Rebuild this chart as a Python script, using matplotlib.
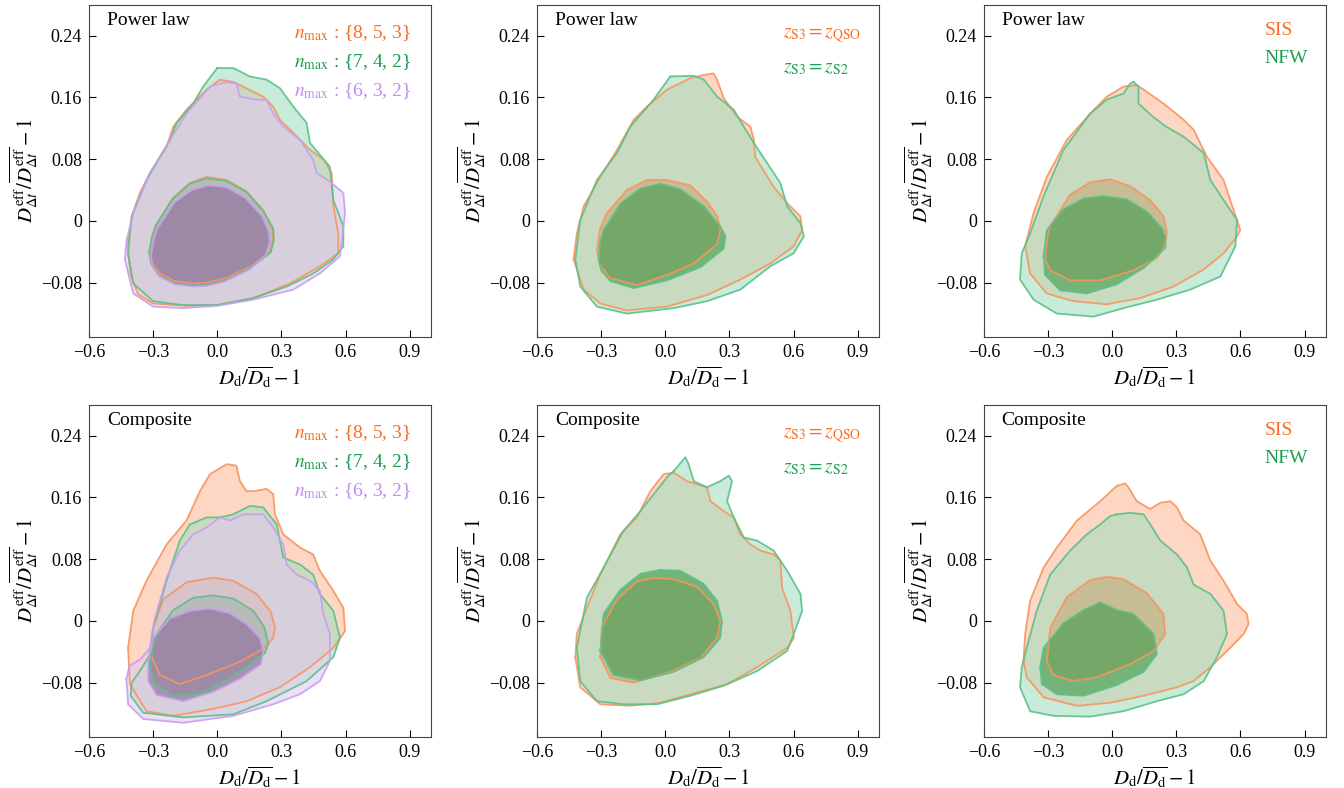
import matplotlib
matplotlib.use("Agg")
import matplotlib.pyplot as plt
from matplotlib.colors import to_rgba

plt.rcParams["font.family"] = ["Liberation Serif", "DejaVu Serif"]
plt.rcParams["mathtext.fontset"] = "stix"

# text colours, outer-fill colours, inner-fill colours, outline colours
ORANGE = "#ff6a1f"
GREEN = "#1a9e50"
PURPLE = "#c08ff0"
FILL_OUT = {ORANGE: "#fcbb9d", GREEN: "#a5dfc0", PURPLE: "#e4c8f0"}
FILL_IN = {ORANGE: "#fc5a0f", GREEN: "#3f9a4a", PURPLE: "#8c6998"}
EDGE = {ORANGE: "#f7955e", GREEN: "#5cc088", PURPLE: "#c79ff2"}

X_TICKS = [-0.6, -0.3, 0.0, 0.3, 0.6, 0.9]
X_TICK_LABELS = ["\u22120.6", "\u22120.3", "0.0", "0.3", "0.6", "0.9"]
Y_TICKS = [0.24, 0.16, 0.08, 0.0, -0.08]
Y_TICK_LABELS = ["0.24", "0.16", "0.08", "0", "\u22120.08"]

ROW_TITLES = ["Power law", "Composite"]
NMAX_LABELS = [r"$n_{\rm max}$ : {8, 5, 3}", r"$n_{\rm max}$ : {7, 4, 2}", r"$n_{\rm max}$ : {6, 3, 2}"]
ZS3_LABELS = [r"$z_{\rm S3}=z_{\rm QSO}$", r"$z_{\rm S3}=z_{\rm S2}$"]
HALO_LABELS = ["SIS", "NFW"]

# ---- contour outlines (x, y) ----
# Power law, n_max
pl_n853_out = [(-0.417, -0.025), (-0.417, -0.042), (-0.405, -0.07), (-0.37, -0.095), (-0.30, -0.107),
               (-0.144, -0.110), (0.0, -0.109), (0.169, -0.100), (0.34, -0.081), (0.48, -0.059),
               (0.566, -0.042), (0.566, -0.016), (0.543, 0.019), (0.535, 0.062), (0.50, 0.079),
               (0.434, 0.092), (0.356, 0.114), (0.293, 0.131), (0.262, 0.148), (0.215, 0.161),
               (0.075, 0.180), (0.012, 0.183), (-0.05, 0.170), (-0.144, 0.144), (-0.206, 0.122),
               (-0.237, 0.096), (-0.315, 0.062), (-0.362, 0.036), (-0.40, 0.006)]
pl_n742_out = [(0.0, 0.198), (0.075, 0.198), (0.153, 0.187), (0.23, 0.183), (0.293, 0.172),
               (0.356, 0.148), (0.418, 0.127), (0.434, 0.101), (0.527, 0.070), (0.543, 0.027),
               (0.59, -0.007), (0.59, -0.033), (0.543, -0.050), (0.45, -0.068), (0.325, -0.085),
               (0.169, -0.100), (0.0, -0.109), (-0.16, -0.109), (-0.30, -0.104), (-0.393, -0.081),
               (-0.417, -0.042), (-0.40, 0.006), (-0.33, 0.053), (-0.268, 0.083), (-0.22, 0.105),
               (-0.19, 0.127), (-0.112, 0.152), (-0.066, 0.174)]
pl_n632_out = [(-0.432, -0.050), (-0.393, -0.094), (-0.30, -0.111), (-0.16, -0.113), (0.0, -0.110),
               (0.169, -0.102), (0.356, -0.089), (0.48, -0.068), (0.574, -0.046), (0.598, 0.010),
               (0.59, 0.036), (0.527, 0.051), (0.465, 0.062), (0.449, 0.079), (0.387, 0.105),
               (0.309, 0.122), (0.262, 0.139), (0.231, 0.157), (0.184, 0.157), (0.106, 0.161),
               (0.09, 0.178), (0.044, 0.180), (-0.034, 0.174), (-0.144, 0.139), (-0.22, 0.105),
               (-0.315, 0.062), (-0.393, 0.010), (-0.424, -0.025)]
pl_n853_in = [(-0.315, -0.038), (-0.30, -0.020), (-0.284, -0.005), (-0.206, 0.030), (-0.128, 0.049),
              (-0.05, 0.057), (0.044, 0.053), (0.137, 0.038), (0.215, 0.014), (0.258, -0.010),
              (0.262, -0.025), (0.247, -0.040), (0.169, -0.057), (0.044, -0.074), (-0.05, -0.080),
              (-0.112, -0.081), (-0.200, -0.078), (-0.270, -0.068), (-0.305, -0.054)]
pl_n742_in = [(-0.318, -0.040), (-0.305, -0.020), (-0.288, -0.006), (-0.21, 0.028), (-0.13, 0.048),
              (-0.05, 0.055), (0.04, 0.052), (0.135, 0.038), (0.215, 0.013), (0.262, -0.010),
              (0.265, -0.024), (0.25, -0.041), (0.165, -0.059), (0.04, -0.077), (-0.05, -0.083),
              (-0.112, -0.084), (-0.20, -0.081), (-0.275, -0.070), (-0.31, -0.055)]
pl_n632_in = [(-0.31, -0.045), (-0.298, -0.025), (-0.28, -0.010), (-0.20, 0.024), (-0.12, 0.040),
              (-0.04, 0.046), (0.04, 0.044), (0.13, 0.030), (0.21, 0.006), (0.242, -0.015),
              (0.245, -0.028), (0.225, -0.045), (0.15, -0.063), (0.03, -0.079), (-0.05, -0.084),
              (-0.11, -0.085), (-0.20, -0.082), (-0.27, -0.072), (-0.305, -0.058)]

# Power law, z_S3
pl_qso_out = [(-0.429, -0.050), (-0.382, -0.089), (-0.304, -0.107), (-0.18, -0.116), (0.008, -0.111),
              (0.195, -0.096), (0.351, -0.076), (0.492, -0.055), (0.60, -0.033), (0.64, -0.012),
              (0.632, 0.006), (0.57, 0.023), (0.507, 0.044), (0.42, 0.083), (0.414, 0.105),
              (0.398, 0.122), (0.336, 0.135), (0.273, 0.159), (0.242, 0.183), (0.226, 0.191),
              (0.18, 0.189), (0.117, 0.185), (0.008, 0.170), (-0.086, 0.148), (-0.148, 0.131),
              (-0.226, 0.092), (-0.304, 0.057), (-0.382, 0.019), (-0.414, -0.016)]
pl_s2_out = [(0.023, 0.187), (0.133, 0.188), (0.18, 0.183), (0.242, 0.161), (0.32, 0.144),
             (0.367, 0.122), (0.414, 0.101), (0.476, 0.075), (0.538, 0.049), (0.57, 0.019),
             (0.632, -0.003), (0.648, -0.020), (0.60, -0.042), (0.49, -0.059), (0.351, -0.089),
             (0.195, -0.104), (0.039, -0.113), (-0.18, -0.120), (-0.32, -0.111), (-0.398, -0.085),
             (-0.421, -0.050), (-0.398, 0.001), (-0.32, 0.053), (-0.226, 0.088), (-0.164, 0.122),
             (-0.055, 0.157)]
pl_qso_in = [(-0.32, -0.038), (-0.305, -0.010), (-0.273, 0.010), (-0.18, 0.040), (-0.086, 0.053),
             (0.008, 0.053), (0.117, 0.046), (0.195, 0.025), (0.245, 0.005), (0.257, -0.012),
             (0.242, -0.030), (0.133, -0.055), (0.008, -0.070), (-0.133, -0.083), (-0.257, -0.074),
             (-0.305, -0.058)]
pl_s2_in = [(-0.312, -0.050), (-0.305, -0.028), (-0.289, -0.012), (-0.211, 0.022), (-0.117, 0.042),
            (-0.023, 0.048), (0.07, 0.041), (0.18, 0.019), (0.257, -0.007), (0.281, -0.020),
            (0.273, -0.036), (0.164, -0.060), (0.008, -0.077), (-0.148, -0.087), (-0.257, -0.078),
            (-0.300, -0.064)]

# Power law, SIS / NFW
pl_sis_out = [(-0.407, -0.033), (-0.384, -0.068), (-0.306, -0.094), (-0.181, -0.104), (-0.025, -0.108),
              (0.131, -0.100), (0.287, -0.085), (0.428, -0.063), (0.521, -0.042), (0.584, -0.020),
              (0.599, -0.012), (0.584, 0.001), (0.552, 0.027), (0.521, 0.053), (0.443, 0.083),
              (0.381, 0.118), (0.334, 0.131), (0.24, 0.152), (0.147, 0.170), (0.115, 0.176),
              (0.053, 0.174), (-0.025, 0.161), (-0.103, 0.139), (-0.212, 0.105), (-0.306, 0.057),
              (-0.368, 0.010)]
pl_nfw_out = [(0.10, 0.180), (0.123, 0.174), (0.123, 0.152), (0.19, 0.135), (0.253, 0.122),
              (0.334, 0.109), (0.428, 0.088), (0.459, 0.053), (0.521, 0.027), (0.584, 0.001),
              (0.576, -0.033), (0.506, -0.072), (0.365, -0.089), (0.209, -0.102), (0.053, -0.113),
              (-0.087, -0.124), (-0.259, -0.120), (-0.368, -0.102), (-0.431, -0.076), (-0.423, -0.042),
              (-0.384, -0.016), (-0.321, 0.032), (-0.228, 0.092), (-0.103, 0.139), (-0.025, 0.157),
              (0.053, 0.165), (0.084, 0.178)]
pl_sis_in = [(-0.314, -0.050), (-0.305, -0.025), (-0.29, -0.007), (-0.197, 0.034), (-0.103, 0.050),
             (-0.009, 0.054), (0.084, 0.045), (0.178, 0.027), (0.24, 0.006), (0.256, -0.016),
             (0.240, -0.035), (0.209, -0.048), (0.10, -0.064), (-0.056, -0.077), (-0.197, -0.077),
             (-0.29, -0.064)]
pl_nfw_in = [(-0.321, -0.046), (-0.306, -0.012), (-0.228, 0.015), (-0.134, 0.029), (-0.041, 0.032),
             (0.069, 0.028), (0.162, 0.012), (0.235, -0.010), (0.250, -0.022), (0.248, -0.035),
             (0.147, -0.061), (0.022, -0.082), (-0.119, -0.094), (-0.243, -0.090), (-0.314, -0.070)]

# Composite, n_max
cp_n853_out = [(-0.417, -0.035), (-0.409, -0.082), (-0.331, -0.117), (-0.206, -0.123), (-0.019, -0.114),
               (0.137, -0.104), (0.293, -0.086), (0.434, -0.060), (0.543, -0.035), (0.598, -0.013),
               (0.59, 0.017), (0.543, 0.039), (0.48, 0.065), (0.449, 0.086), (0.387, 0.095),
               (0.309, 0.112), (0.27, 0.138), (0.262, 0.164), (0.231, 0.171), (0.169, 0.168),
               (0.137, 0.168), (0.106, 0.181), (0.09, 0.201), (0.044, 0.203), (-0.034, 0.19),
               (-0.081, 0.168), (-0.144, 0.130), (-0.237, 0.099), (-0.331, 0.052), (-0.393, 0.013)]
cp_n742_out = [(0.012, 0.134), (0.075, 0.138), (0.153, 0.149), (0.215, 0.147), (0.278, 0.125),
               (0.309, 0.082), (0.387, 0.073), (0.449, 0.060), (0.48, 0.035), (0.543, 0.013),
               (0.574, -0.022), (0.543, -0.047), (0.418, -0.078), (0.231, -0.104), (0.075, -0.121),
               (-0.159, -0.125), (-0.346, -0.119), (-0.405, -0.097), (-0.400, -0.080), (-0.355, -0.062),
               (-0.318, -0.045), (-0.30, -0.009), (-0.237, 0.052), (-0.175, 0.104), (-0.128, 0.125),
               (-0.05, 0.134)]
cp_n632_out = [(-0.425, -0.075), (-0.417, -0.108), (-0.346, -0.127), (-0.159, -0.132), (0.075, -0.123),
               (0.262, -0.108), (0.387, -0.095), (0.48, -0.078), (0.527, -0.052), (0.527, -0.017),
               (0.496, 0.009), (0.48, 0.039), (0.434, 0.052), (0.371, 0.060), (0.325, 0.073),
               (0.309, 0.099), (0.262, 0.121), (0.215, 0.138), (0.122, 0.138), (0.059, 0.130),
               (0.012, 0.134), (-0.05, 0.121), (-0.112, 0.112), (-0.175, 0.091), (-0.237, 0.056),
               (-0.295, 0.000), (-0.315, -0.035), (-0.360, -0.050), (-0.410, -0.058)]
cp_n853_in = [(-0.307, -0.047), (-0.30, -0.009), (-0.253, 0.028), (-0.144, 0.050), (-0.019, 0.056),
              (0.075, 0.052), (0.184, 0.035), (0.250, 0.012), (0.270, -0.008), (0.262, -0.022),
              (0.215, -0.036), (0.106, -0.053), (-0.05, -0.070), (-0.175, -0.082), (-0.268, -0.070)]
cp_n742_in = [(-0.315, -0.052), (-0.284, -0.017), (-0.206, 0.014), (-0.112, 0.030), (-0.019, 0.033),
              (0.075, 0.029), (0.169, 0.013), (0.220, -0.008), (0.239, -0.030), (0.222, -0.042),
              (0.184, -0.050), (0.075, -0.071), (-0.081, -0.095), (-0.206, -0.097), (-0.30, -0.080)]
cp_n632_in = [(-0.323, -0.052), (-0.30, -0.022), (-0.222, 0.003), (-0.128, 0.013), (-0.034, 0.016),
              (0.059, 0.010), (0.137, -0.004), (0.200, -0.022), (0.215, -0.040), (0.205, -0.056),
              (0.106, -0.075), (-0.019, -0.092), (-0.159, -0.104), (-0.284, -0.096), (-0.323, -0.078)]

# Composite, z_S3
cp_qso_out = [(-0.421, -0.047), (-0.398, -0.086), (-0.304, -0.108), (-0.164, -0.110), (-0.023, -0.106),
              (0.117, -0.095), (0.289, -0.082), (0.429, -0.060), (0.57, -0.035), (0.601, -0.022),
              (0.585, 0.013), (0.546, 0.043), (0.538, 0.078), (0.507, 0.086), (0.445, 0.091),
              (0.398, 0.099), (0.351, 0.112), (0.32, 0.134), (0.273, 0.142), (0.211, 0.155),
              (0.195, 0.173), (0.148, 0.177), (0.101, 0.181), (0.039, 0.192), (-0.008, 0.190),
              (-0.070, 0.168), (-0.133, 0.134), (-0.211, 0.112), (-0.304, 0.060), (-0.367, 0.017),
              (-0.414, -0.017)]
cp_s2_out = [(0.039, 0.194), (0.094, 0.212), (0.109, 0.203), (0.133, 0.181), (0.195, 0.173),
             (0.257, 0.181), (0.297, 0.188), (0.312, 0.181), (0.289, 0.155), (0.32, 0.134),
             (0.367, 0.108), (0.429, 0.104), (0.507, 0.091), (0.57, 0.065), (0.632, 0.035),
             (0.64, 0.013), (0.601, -0.017), (0.57, -0.039), (0.429, -0.065), (0.273, -0.084),
             (0.117, -0.097), (-0.039, -0.108), (-0.195, -0.108), (-0.32, -0.104), (-0.398, -0.078),
             (-0.414, -0.035), (-0.367, 0.030), (-0.289, 0.069), (-0.195, 0.117), (-0.117, 0.142),
             (-0.055, 0.164), (0.008, 0.186)]
cp_qso_in = [(-0.304, -0.047), (-0.297, -0.009), (-0.226, 0.028), (-0.133, 0.051), (-0.055, 0.056),
             (0.039, 0.054), (0.148, 0.044), (0.226, 0.022), (0.257, 0.0), (0.242, -0.022),
             (0.164, -0.048), (0.023, -0.066), (-0.148, -0.080), (-0.257, -0.074)]
cp_s2_in = [(-0.304, -0.039), (-0.289, 0.009), (-0.211, 0.040), (-0.117, 0.061), (-0.023, 0.066),
            (0.070, 0.065), (0.179, 0.048), (0.242, 0.026), (0.265, 0.0), (0.257, -0.022),
            (0.179, -0.047), (0.039, -0.066), (-0.117, -0.077), (-0.242, -0.070)]

# Composite, SIS / NFW
cp_sis_out = [(-0.415, -0.052), (-0.40, -0.073), (-0.321, -0.099), (-0.165, -0.110), (-0.009, -0.106),
              (0.147, -0.097), (0.303, -0.086), (0.381, -0.078), (0.459, -0.060), (0.552, -0.035),
              (0.615, -0.017), (0.638, -0.004), (0.63, 0.009), (0.584, 0.022), (0.521, 0.052),
              (0.459, 0.078), (0.412, 0.112), (0.334, 0.130), (0.303, 0.147), (0.272, 0.155),
              (0.225, 0.153), (0.178, 0.145), (0.115, 0.155), (0.076, 0.173), (0.061, 0.178),
              (0.022, 0.175), (-0.056, 0.155), (-0.165, 0.130), (-0.259, 0.095), (-0.321, 0.069),
              (-0.384, 0.026), (-0.407, -0.017)]
cp_nfw_out = [(0.022, 0.138), (0.084, 0.140), (0.147, 0.138), (0.178, 0.125), (0.225, 0.104),
              (0.303, 0.086), (0.35, 0.069), (0.381, 0.047), (0.459, 0.035), (0.521, 0.013),
              (0.537, -0.017), (0.49, -0.047), (0.428, -0.078), (0.334, -0.095), (0.209, -0.104),
              (0.053, -0.117), (-0.103, -0.124), (-0.275, -0.123), (-0.384, -0.117), (-0.431, -0.086),
              (-0.423, -0.060), (-0.40, -0.035), (-0.353, 0.013), (-0.290, 0.060), (-0.197, 0.091),
              (-0.119, 0.112), (-0.056, 0.125), (-0.009, 0.136)]
cp_sis_in = [(-0.306, -0.052), (-0.29, -0.009), (-0.212, 0.031), (-0.103, 0.053), (-0.025, 0.057),
             (0.053, 0.054), (0.162, 0.036), (0.24, 0.009), (0.248, -0.017), (0.194, -0.039),
             (0.084, -0.056), (-0.072, -0.073), (-0.181, -0.078), (-0.275, -0.070)]
cp_nfw_in = [(-0.337, -0.060), (-0.321, -0.035), (-0.228, -0.003), (-0.134, 0.014), (-0.056, 0.024),
             (0.022, 0.014), (0.10, 0.009), (0.194, -0.017), (0.209, -0.043), (0.147, -0.066),
             (0.022, -0.083), (-0.134, -0.097), (-0.259, -0.095), (-0.329, -0.082)]


def draw_contour(ax, outer, inner, color):
    # fills first; outlines are added on top so every line stays visible
    for pts, fc, a in ((outer, FILL_OUT[color], 0.6), (inner, FILL_IN[color], 0.6)):
        xs = [p[0] for p in pts]
        ys = [p[1] for p in pts]
        ax.fill(xs, ys, facecolor=to_rgba(fc, a), edgecolor="none", zorder=1)
        ax.plot(xs + xs[:1], ys + ys[:1], color=EDGE[color], lw=1.3, alpha=0.9,
                solid_joinstyle="round", zorder=3)


def style_axes(ax, title, labels, colors, lx, ly0, dy):
    ax.set_xlim(-0.6, 1.0)
    ax.set_ylim(-0.15, 0.28)
    ax.set_xticks(X_TICKS)
    ax.set_xticklabels(X_TICK_LABELS)
    ax.set_yticks(Y_TICKS)
    ax.set_yticklabels(Y_TICK_LABELS)
    ax.tick_params(direction="in", labelsize=13, length=5, pad=5)
    for s in ax.spines.values():
        s.set_color("#444444")
    ax.set_xlabel(r"$D_{\rm d}/\overline{D_{\rm d}}-1$", fontsize=15, labelpad=3)
    ax.set_ylabel(r"$D^{\rm eff}_{\Delta t}/\overline{D^{\rm eff}_{\Delta t}}-1$", fontsize=15, labelpad=0)
    ax.text(0.052, 0.952, title, transform=ax.transAxes, fontsize=14, va="center", ha="left")
    for i, (lab, c) in enumerate(zip(labels, colors)):
        ax.text(lx, ly0 - i * dy, lab, transform=ax.transAxes, fontsize=14, color=c,
                va="center", ha="left")


fig = plt.figure(figsize=(13.44, 7.88), dpi=100)
lefts = [0.0662, 0.3996, 0.7321]
bottoms = [0.5727, 0.0651]
w, h = 0.2545, 0.4213

panels = [
    [
        ([(pl_n853_out, pl_n853_in, ORANGE), (pl_n742_out, pl_n742_in, GREEN), (pl_n632_out, pl_n632_in, PURPLE)],
         NMAX_LABELS, [ORANGE, GREEN, PURPLE], 0.60, 0.915, 0.088),
        ([(pl_qso_out, pl_qso_in, ORANGE), (pl_s2_out, pl_s2_in, GREEN)],
         ZS3_LABELS, [ORANGE, GREEN], 0.72, 0.905, 0.097),
        ([(pl_sis_out, pl_sis_in, ORANGE), (pl_nfw_out, pl_nfw_in, GREEN)],
         HALO_LABELS, [ORANGE, GREEN], 0.82, 0.922, 0.083),
    ],
    [
        ([(cp_n853_out, cp_n853_in, ORANGE), (cp_n742_out, cp_n742_in, GREEN), (cp_n632_out, cp_n632_in, PURPLE)],
         NMAX_LABELS, [ORANGE, GREEN, PURPLE], 0.60, 0.915, 0.088),
        ([(cp_qso_out, cp_qso_in, ORANGE), (cp_s2_out, cp_s2_in, GREEN)],
         ZS3_LABELS, [ORANGE, GREEN], 0.72, 0.905, 0.097),
        ([(cp_sis_out, cp_sis_in, ORANGE), (cp_nfw_out, cp_nfw_in, GREEN)],
         HALO_LABELS, [ORANGE, GREEN], 0.82, 0.922, 0.083),
    ],
]

for r, row in enumerate(panels):
    for c, (contours, labels, colors, lx, ly0, dy) in enumerate(row):
        ax = fig.add_axes([lefts[c], bottoms[r], w, h])
        for outer, inner, color in contours:
            draw_contour(ax, outer, inner, color)
        style_axes(ax, ROW_TITLES[r], labels, colors, lx, ly0, dy)

fig.savefig("out.png", dpi=100)
